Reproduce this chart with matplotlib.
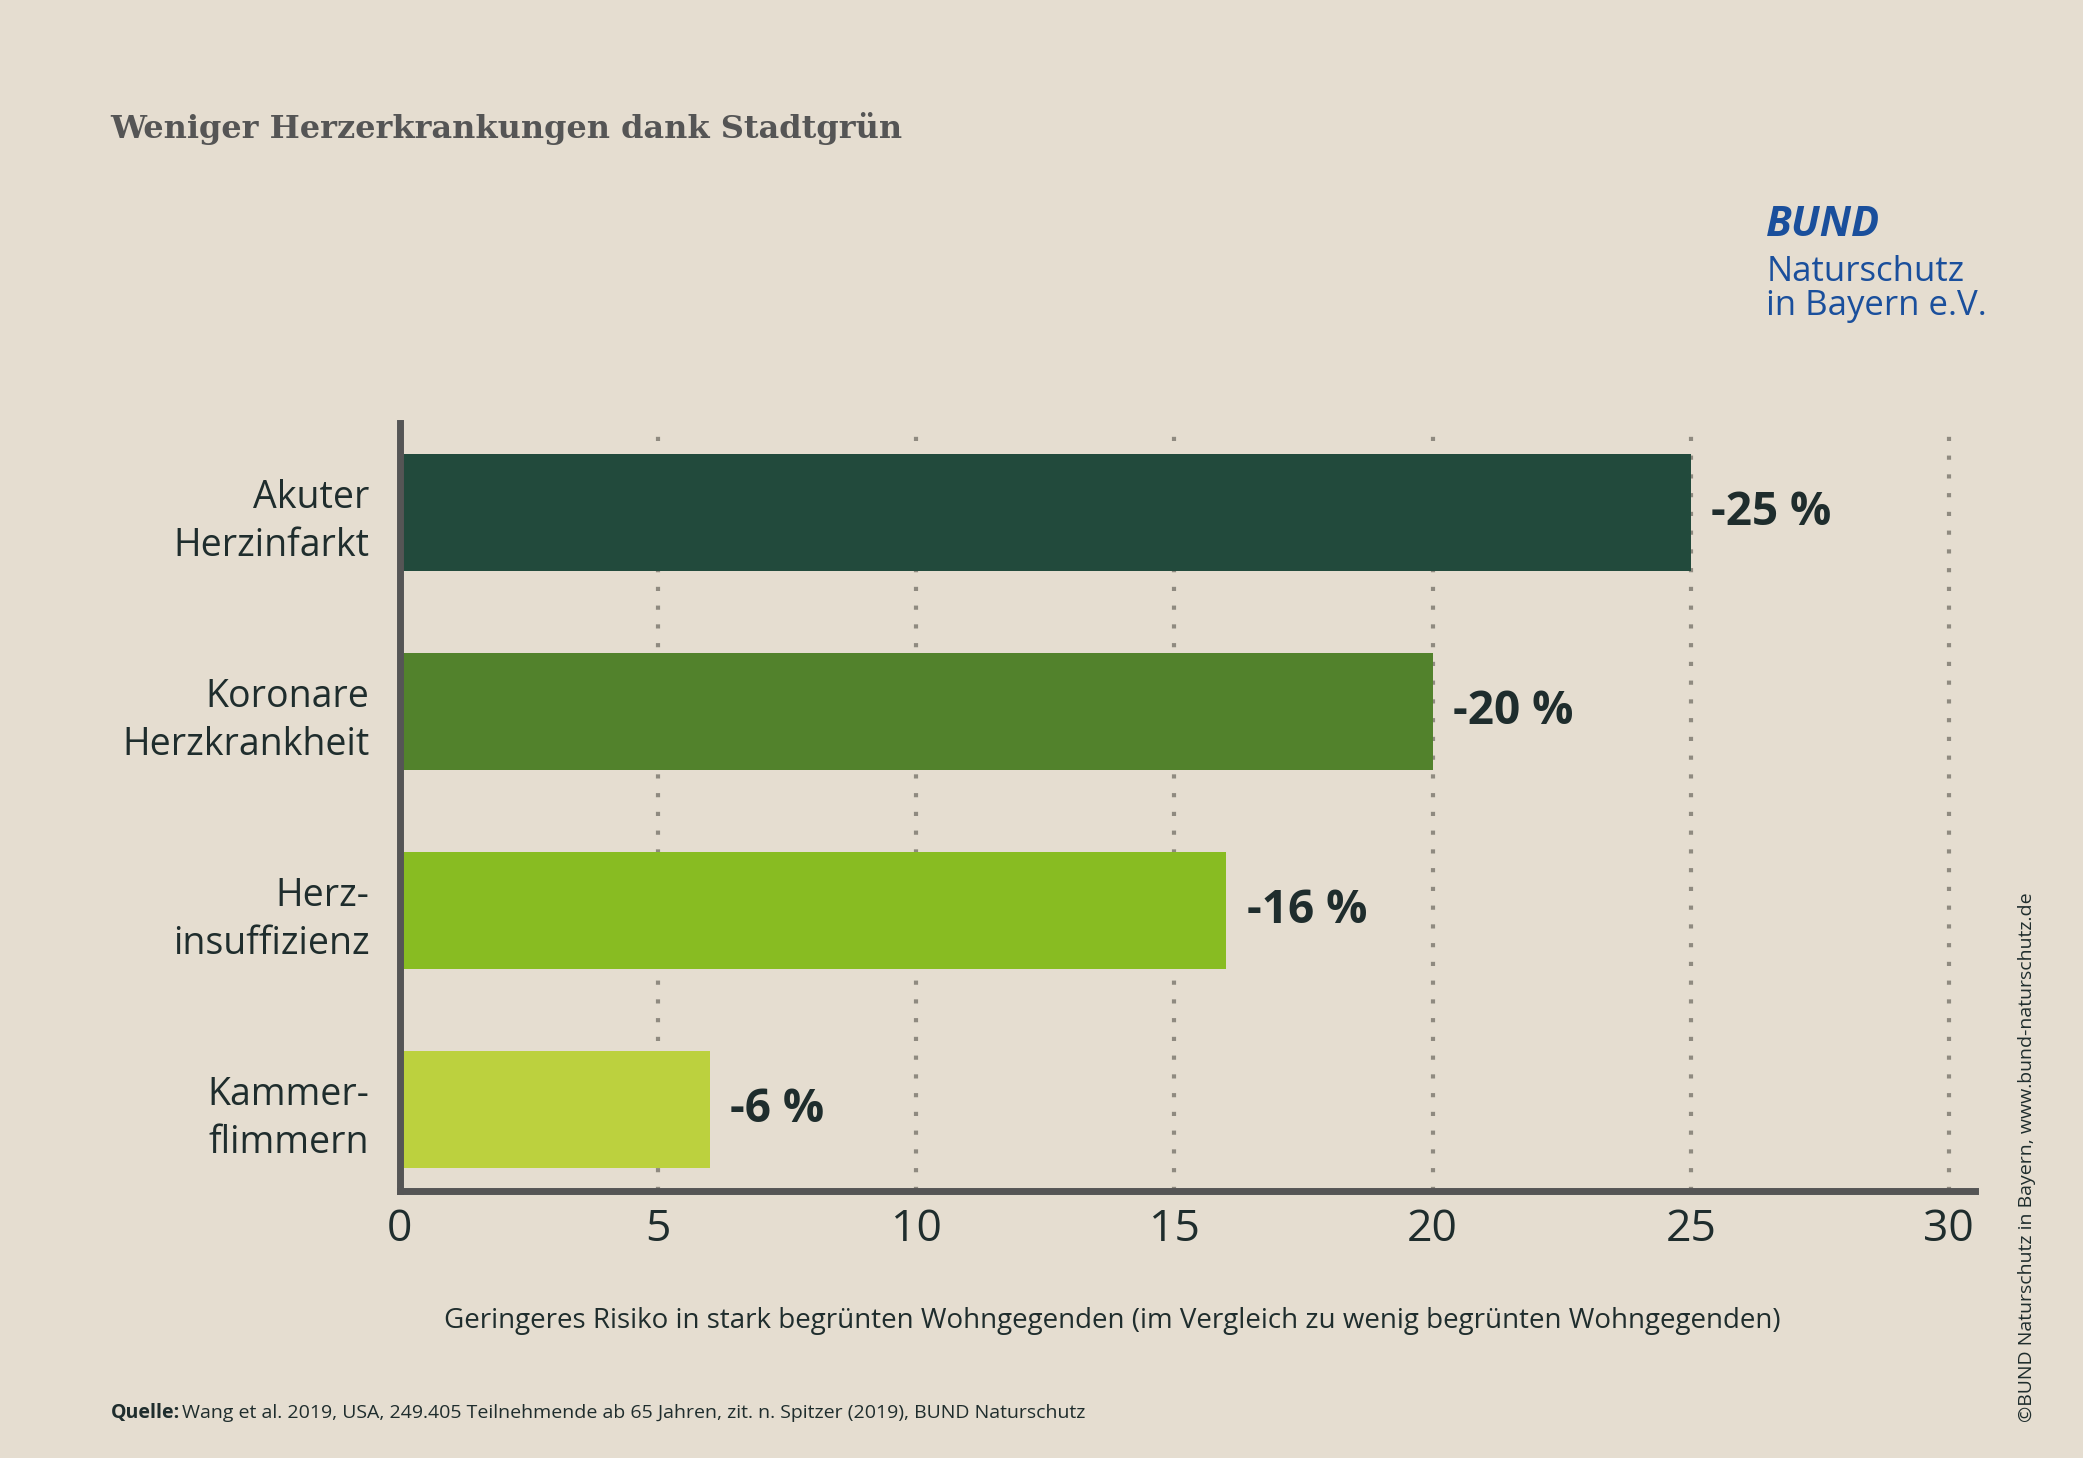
import matplotlib
matplotlib.use("Agg")
import matplotlib.pyplot as plt

categories = ["Akuter\nHerzinfarkt", "Koronare\nHerzkrankheit", "Herz-\ninsuffizienz", "Kammer-\nflimmern"]
values = [25, 20, 16, 6]
value_labels = ["-25 %", "-20 %", "-16 %", "-6 %"]
colors = ["#224a3c", "#52822c", "#88bc22", "#bcd13e"]
xticks = [0, 5, 10, 15, 20, 25, 30]

bg = "#e5ddd0"
plt.rcParams['font.family'] = ['Open Sans', 'DejaVu Sans']
fig = plt.figure(figsize=(20.83, 14.58), dpi=100, facecolor=bg)
ax = fig.add_axes([0.192, 0.183, 0.756, 0.527], facecolor=bg)

y = list(range(len(categories)))
ax.set_xlim(0, 30.5)
ax.set_ylim(3.41, -0.45)
for t in xticks[1:]:
    ax.axvline(t, color="#8f8a80", lw=3, ls=(0, (1, 3.5)), zorder=0)
ax.barh(y, values, height=0.59, color=colors, zorder=2)
for yi, v, lab in zip(y, values, value_labels):
    ax.text(v + 0.4, yi, lab, va="center", ha="left", fontsize=33, fontweight="bold", color="#1f2d2d")

ax.set_yticks(y)
ax.set_yticklabels(categories, fontsize=27, color="#1f2d2d", linespacing=1.35)
ax.set_xticks(xticks)
ax.set_xticklabels([str(t) for t in xticks], fontsize=32, color="#1f2d2d")
ax.tick_params(axis="both", length=0, pad=12)
ax.tick_params(axis="y", pad=22)
for s in ["top", "right"]:
    ax.spines[s].set_visible(False)
for s in ["left", "bottom"]:
    ax.spines[s].set_color("#555555")
    ax.spines[s].set_linewidth(5)
fig.text(0.534, 0.094, "Geringeres Risiko in stark begrünten Wohngegenden (im Vergleich zu wenig begrünten Wohngegenden)",
         fontsize=20, color="#1f2d2d", ha="center", va="center")

fig.text(0.053, 0.912, "Weniger Herzerkrankungen dank Stadtgrün", fontsize=23, fontweight="bold",
         family="DejaVu Serif", color="#555555", va="center")
fig.text(0.848, 0.845, "BUND", fontsize=30, fontweight="bold", style="italic", color="#1a4f9c", va="center")
fig.text(0.848, 0.802, "Naturschutz\nin Bayern e.V.", fontsize=25, color="#1a4f9c", va="center", linespacing=1.0)
fig.text(0.053, 0.031, "Quelle:", fontsize=14, fontweight="bold", color="#1f2d2d", va="center")
fig.text(0.0875, 0.031, "Wang et al. 2019, USA, 249.405 Teilnehmende ab 65 Jahren, zit. n. Spitzer (2019), BUND Naturschutz",
         fontsize=14, color="#1f2d2d", va="center")
fig.text(0.973, 0.025, "©BUND Naturschutz in Bayern, www.bund-naturschutz.de", rotation=90, fontsize=14,
         color="#1f2d2d", va="bottom", ha="center")

fig.savefig("out.png", dpi=100, facecolor=bg)
